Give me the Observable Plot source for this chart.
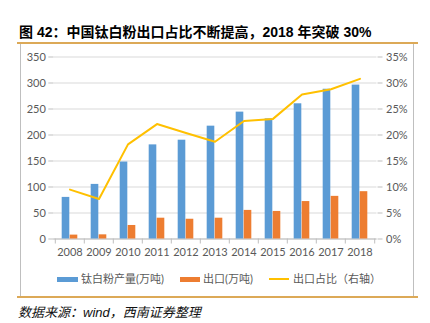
<!DOCTYPE html>
<html>
<head>
<meta charset="utf-8">
<script src="https://cdn.jsdelivr.net/npm/d3@7"></script>
<script src="https://cdn.jsdelivr.net/npm/@observablehq/plot@0.6"></script>
<style>
  html, body { margin: 0; padding: 0; background: #fff; }
  #wrap { position: relative; width: 430px; height: 323px; overflow: hidden; font-family: "Liberation Sans", "Noto Sans CJK SC", sans-serif; }
  .abs { position: absolute; }
  #title { left: 19px; top: 21px; font-size: 14px; font-weight: bold; color: #000; white-space: nowrap; font-family: "Liberation Sans", "Noto Sans CJK SC", sans-serif; }
  .hline { height: 2px; background: #dca957; left: 17px; width: 401px; }
  .vline { width: 1px; background: #bfbfbf; top: 44px; height: 252px; }
  #chart { left: 0; top: 43px; }
  .lg { top: 271px; font-size: 11px; color: #595959; white-space: nowrap; font-family: "Lato", "Noto Sans CJK SC", sans-serif; line-height: 16px; }
  #caption { left: 18px; top: 302px; font-size: 13px; font-style: italic; color: #111; white-space: nowrap; font-family: "Liberation Sans", "Noto Sans CJK SC", sans-serif; }
</style>
</head>
<body>
<div id="wrap">
  <div id="title" class="abs"></div>
  <div class="abs hline" style="top:42px"></div>
  <div class="abs vline" style="left:20px"></div>
  <div class="abs vline" style="left:413px"></div>
  <div id="chart" class="abs"></div>
  <div id="legend"></div>
  <div class="abs hline" style="top:296px"></div>
  <div id="caption" class="abs"></div>
</div>
<script>
// ---- data ----
const titleText = "图 42：中国钛白粉出口占比不断提高，2018 年突破 30%";
const captionText = "数据来源：wind，西南证券整理";
const years = ["2008", "2009", "2010", "2011", "2012", "2013", "2014", "2015", "2016", "2017", "2018"];
const production = [80, 105, 148, 181, 190, 217, 244, 231, 260, 288, 296];   // 钛白粉产量(万吨)
const exportsVol = [7.5, 8, 26, 40, 38, 40, 55, 53, 72, 82, 91];               // 出口(万吨)
const exportShare = [9.5, 7.7, 18.2, 22.1, 20.4, 18.7, 22.7, 23.1, 27.8, 28.8, 30.8]; // 出口占比 %
const leftTicks = [0, 50, 100, 150, 200, 250, 300, 350];
const rightTicks = [0, 5, 10, 15, 20, 25, 30, 35];
const seriesNames = ["钛白粉产量(万吨)", "出口(万吨)", "出口占比（右轴）"];
const colors = ["#5b9bd5", "#ed7d31", "#ffc000"];

// right axis (0–35%) shares the left scale (0–350)
const shareToLeft = 350 / 35;

const rows = years.map((y, i) => ({ year: y, production: production[i], exports: exportsVol[i], share: exportShare[i] * shareToLeft }));

document.getElementById("title").textContent = titleText;
document.getElementById("caption").textContent = captionText;

const W = 430, H = 254, mL = 53.3, mR = 53.5, mT = 13.5, mB = 58.5;
const bw = (W - mL - mR) / years.length;
const barW = 8;
const half = bw / 2;

const chart = Plot.plot({
  width: W, height: H,
  marginTop: mT, marginBottom: mB, marginLeft: mL, marginRight: mR,
  x: { type: "band", domain: years, padding: 0 },
  y: { domain: [0, 350] },
  style: { fontFamily: "Lato, 'Liberation Sans', sans-serif", fontSize: "11px", color: "#595959", background: "transparent" },
  marks: [
    Plot.gridY({ ticks: leftTicks, stroke: "#d9d9d9", strokeOpacity: 1 }),
    Plot.ruleX(years.slice(0, 1), { x: "", dx: -half, y1: 0, y2: 350, stroke: "#bfbfbf" }),
    Plot.ruleX(years.slice(-1), { x: "", dx: half, y1: 0, y2: 350, stroke: "#bfbfbf" }),
    Plot.ruleY([0], { stroke: "#bfbfbf" }),
    Plot.axisY({ ticks: leftTicks, anchor: "left", tickSize: 5, tickPadding: 3, stroke: "#bfbfbf", fill: "#595959", label: null }),
    Plot.axisY({ ticks: rightTicks.map(t => t * shareToLeft), anchor: "right", tickSize: 5, tickPadding: 4, stroke: "#bfbfbf", fill: "#595959", label: null,
      tickFormat: d => Math.round(d / shareToLeft) + "%" }),
    Plot.axisX({ ticks: years, tickSize: 0, tickPadding: 9, fill: "#595959", label: null }),
    Plot.axisX({ ticks: years, tickSize: 5, tickFormat: () => "", dx: -half, stroke: "#bfbfbf", label: null }),
    Plot.axisX({ ticks: years.slice(-1), tickSize: 5, tickFormat: () => "", dx: half, stroke: "#bfbfbf", label: null }),
    Plot.barY(rows, { x: "year", y: "production", fill: colors[0], insetLeft: half - barW, insetRight: half }),
    Plot.barY(rows, { x: "year", y: "exports", fill: colors[1], insetLeft: half, insetRight: half - barW }),
    Plot.line(rows, { x: "year", y: "share", stroke: colors[2], strokeWidth: 2 })
  ]
});
document.getElementById("chart").appendChild(chart);

// legend (HTML)
const legend = document.getElementById("legend");
const items = [
  { sw: { left: 57, w: 21, h: 5 }, textLeft: 81 },
  { sw: { left: 180, w: 20, h: 5 }, textLeft: 203 },
  { sw: { left: 269, w: 20, h: 2 }, textLeft: 293 }
];
items.forEach((it, i) => {
  const s = document.createElement("div");
  s.className = "abs";
  s.style.cssText = `left:${it.sw.left}px;top:${279 - it.sw.h / 2}px;width:${it.sw.w}px;height:${it.sw.h}px;background:${colors[i]}`;
  legend.appendChild(s);
  const t = document.createElement("div");
  t.className = "abs lg";
  t.style.left = it.textLeft + "px";
  t.textContent = seriesNames[i];
  legend.appendChild(t);
});
</script>
</body>
</html>
